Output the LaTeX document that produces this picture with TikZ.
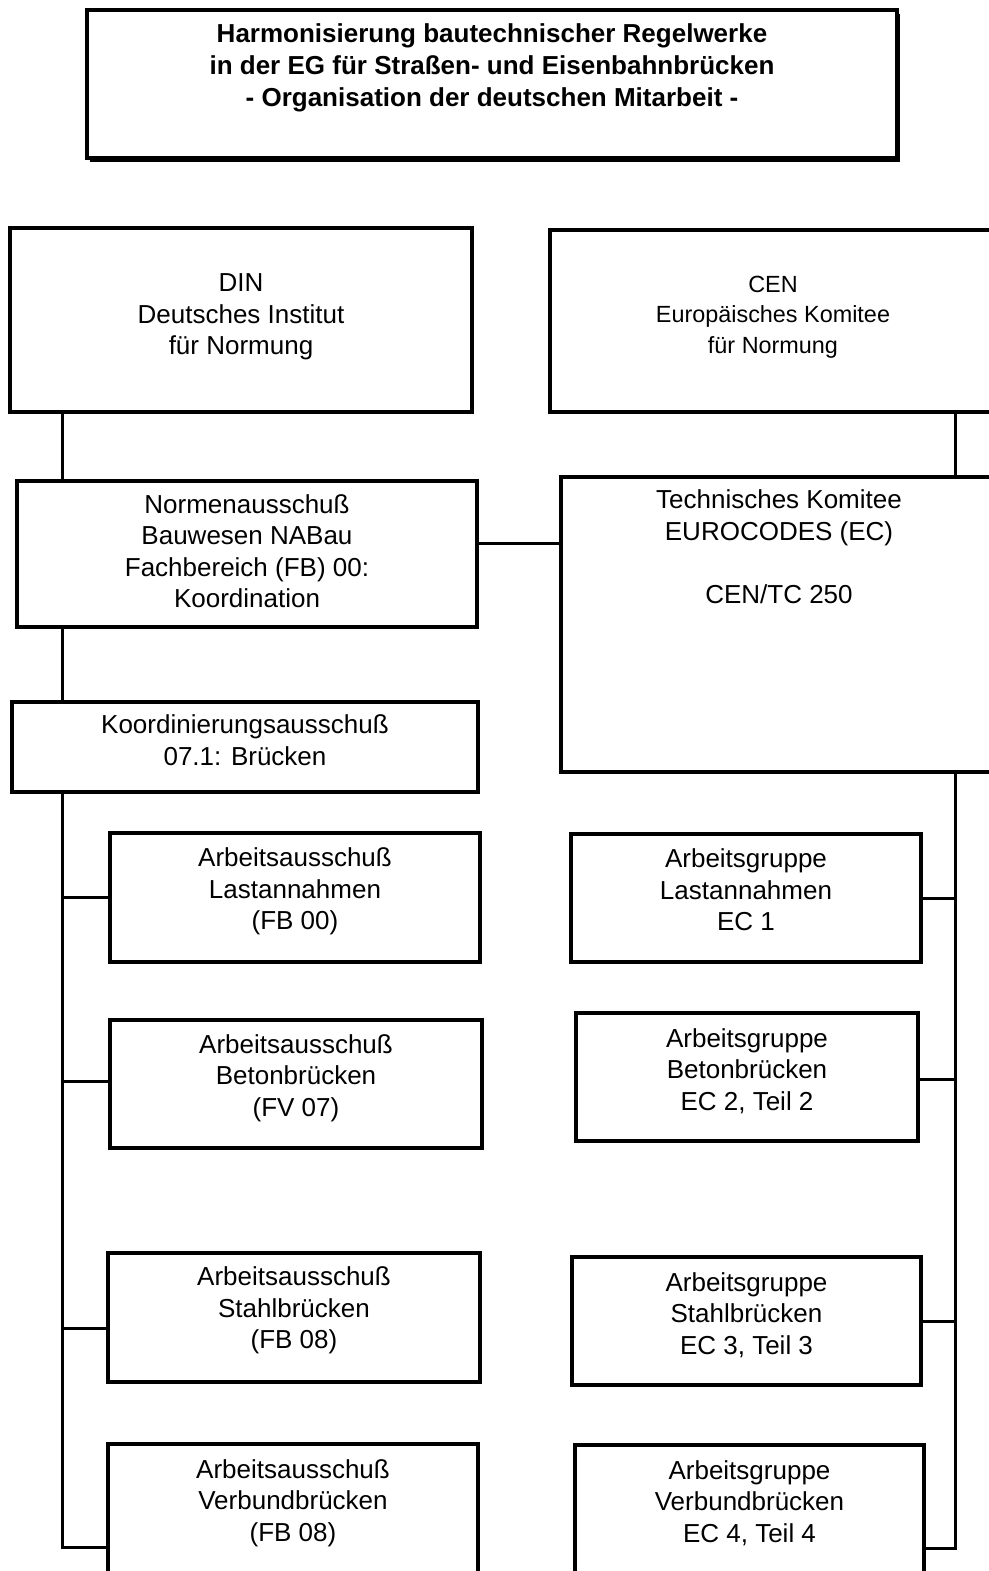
\documentclass[tikz,border=0pt]{standalone}
\usepackage{fontspec}
\setmainfont{Liberation Sans}
\usepackage{tikz}
\usetikzlibrary{positioning, calc, shadows}

\begin{document}
\begin{tikzpicture}[x=0.5pt, y=-0.5pt,
  box/.style={draw, line width=2.2pt, inner sep=0pt},
  lbl/.style={font=\fontsize{13}{15.75}\selectfont, align=center, inner sep=0pt},
  head/.style={box, drop shadow={shadow xshift=1.6pt, shadow yshift=-1.8pt, fill=black, opacity=1}, fill=white},
  conn/.style={draw, line width=1.5pt},
]
\useasboundingbox (0,0) rectangle (989,1571);

% --- Title ---
\node[head, minimum width=405pt, minimum height=74pt] (title) at (492,84) {};
\node[lbl, font=\bfseries\fontsize{13}{16}\selectfont] (ttext) at ([yshift=8pt]title.center) {Harmonisierung bautechnischer Regelwerke\\in der EG für Straßen- und Eisenbahnbrücken\\- Organisation der deutschen Mitarbeit -};

% --- Level 1 ---
\node[box, minimum width=231pt, minimum height=92pt, label={[lbl, yshift=1.5pt]center:{DIN\\Deutsches Institut\\für Normung}}] (din) at (241,320) {};
\node[box, minimum width=223pt, minimum height=91pt, label={[lbl, yshift=2pt, font=\fontsize{11.7}{15.25}\selectfont]center:{CEN\\Europäisches Komitee\\für Normung}}] (cen) at (773,321) {};

% --- Level 2 ---
\node[box, minimum width=230pt, minimum height=73pt, label={[lbl, yshift=1.5pt]center:{Normenausschuß\\Bauwesen NABau\\Fachbereich (FB) 00:\\Koordination}}] (nab) at (247,554) {};
\node[box, minimum width=218pt, minimum height=147.5pt, label={[lbl, yshift=39pt]center:{Technisches Komitee\\EUROCODES (EC)\\[15.75pt]CEN/TC 250}}] (tc) at (779,624.5) {};
\node[box, minimum width=233pt, minimum height=45pt, label={[lbl, yshift=3.5pt]center:{Koordinierungsausschuß\\07.1: Brücken}}] (koord) at (245,747) {};

% --- Level 3: DIN ---
\node[box, minimum width=185pt, minimum height=64.5pt, label={[lbl, yshift=3pt]center:{Arbeitsausschuß\\Lastannahmen\\(FB 00)}}] (aaL) at (295,897.5) {};
\node[box, minimum width=186pt, minimum height=64pt, label={[lbl, yshift=3pt]center:{Arbeitsausschuß\\Betonbrücken\\(FV 07)}}] (aaB) at (296,1084) {};
\node[box, minimum width=186pt, minimum height=64.5pt, label={[lbl, yshift=3.5pt]center:{Arbeitsausschuß\\Stahlbrücken\\(FB 08)}}] (aaS) at (294,1317.5) {};
\node[box, minimum width=185pt, minimum height=65pt, label={[lbl, yshift=3pt]center:{Arbeitsausschuß\\Verbundbrücken\\(FB 08)}}] (aaV) at (293,1509) {};

% --- Level 3: CEN ---
\node[box, minimum width=175pt, minimum height=64pt, label={[lbl, yshift=4pt]center:{Arbeitsgruppe\\Lastannahmen\\EC 1}}] (agL) at (746,898) {};
\node[box, minimum width=171pt, minimum height=64pt, label={[lbl, yshift=3pt]center:{Arbeitsgruppe\\Betonbrücken\\EC 2, Teil 2}}] (agB) at (747,1077) {};
\node[box, minimum width=174.5pt, minimum height=64pt, label={[lbl, yshift=3pt]center:{Arbeitsgruppe\\Stahlbrücken\\EC 3, Teil 3}}] (agS) at (746.5,1321) {};
\node[box, minimum width=174.5pt, minimum height=65pt, label={[lbl, yshift=3.5pt]center:{Arbeitsgruppe\\Verbundbrücken\\EC 4, Teil 4}}] (agV) at (749.5,1510) {};

% --- Connectors ---
\coordinate (lx) at (62,0);
\coordinate (rx) at (955,0);
\coordinate (link) at (0,543);

\draw[conn] (din.south -| lx) -- (nab.north -| lx);
\draw[conn] (nab.south -| lx) -- (koord.north -| lx);
\draw[conn] (koord.south -| lx) |- ([yshift=-19pt]aaV.west);
\foreach \b/\s in {aaL/0, aaB/1.5, aaS/-5.25} { \draw[conn] ([yshift=\s pt]\b.west) -- ([yshift=\s pt]\b.west -| lx); }

\draw[conn] (nab.east |- link) -- (tc.west |- link);

\draw[conn] (cen.south -| rx) -- (tc.north -| rx);
\draw[conn] (tc.south -| rx) |- ([yshift=-19pt]agV.east);
\foreach \b/\s in {agL/0, agB/-1, agS/0} { \draw[conn] ([yshift=\s pt]\b.east) -- ([yshift=\s pt]\b.east -| rx); }

\end{tikzpicture}
\end{document}
